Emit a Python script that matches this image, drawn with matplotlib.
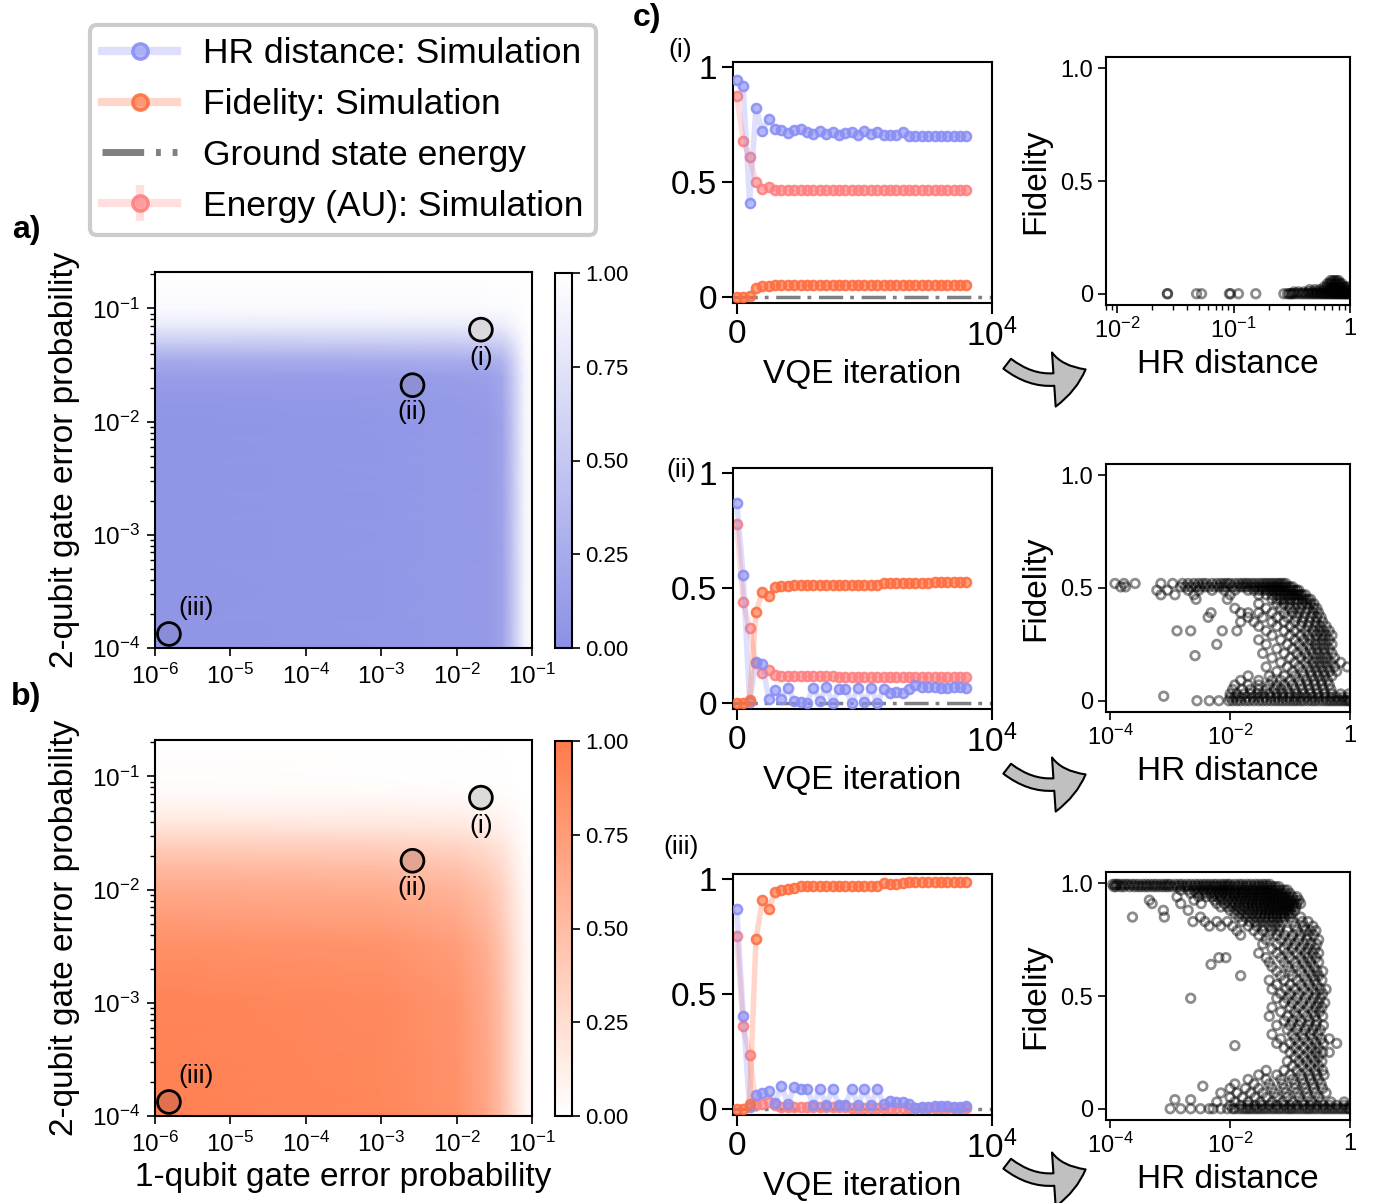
import matplotlib
matplotlib.use("Agg")
import matplotlib.pyplot as plt
from matplotlib.colors import LinearSegmentedColormap, to_rgba
from matplotlib.lines import Line2D
from matplotlib.patches import FancyArrowPatch
from matplotlib.ticker import NullLocator

plt.rcParams['font.family'] = ['Liberation Sans', 'DejaVu Sans']
plt.rcParams['mathtext.fontset'] = 'custom'
plt.rcParams['mathtext.rm'] = 'Liberation Sans'
plt.rcParams['mathtext.it'] = 'Liberation Sans:italic'
plt.rcParams['mathtext.bf'] = 'Liberation Sans:bold'
plt.rcParams['axes.linewidth'] = 1.5

#========================
#       DATA
#=========================
# heatmap grid nodes (1-qubit error along x, 2-qubit error along y)
p1_nodes = [1e-6, 1e-3, 1e-2, 0.025, 0.04, 0.056, 0.079, 0.1]
p2_nodes = [1e-4, 1e-3, 3.2e-3, 1e-2, 0.016, 0.025, 0.035, 0.05, 0.071, 0.1, 0.21]

# HR distance over the grid (rows follow p2_nodes)
hr_map = [
    [.05, .06, .08, .09, .16, .48, .89, .98],
    [.05, .06, .08, .09, .16, .48, .89, .98],
    [.05, .06, .08, .09, .16, .48, .89, .98],
    [.05, .06, .08, .09, .16, .48, .89, .98],
    [.07, .08, .10, .11, .18, .49, .89, .98],
    [.11, .12, .13, .14, .21, .51, .89, .98],
    [.24, .25, .26, .27, .33, .58, .91, .98],
    [.53, .53, .54, .54, .58, .74, .94, .99],
    [.81, .81, .82, .82, .83, .90, .98, 1.0],
    [.95, .95, .95, .95, .96, .97, .99, 1.0],
    [1.0, 1.0, 1.0, 1.0, 1.0, 1.0, 1.0, 1.0],
]

# fidelity over the grid
fid_map = [
    [.95, .91, .83, .67, .49, .29, .10, .03],
    [.93, .89, .81, .65, .48, .28, .09, .03],
    [.85, .82, .74, .60, .44, .26, .09, .03],
    [.65, .62, .57, .46, .34, .20, .07, .02],
    [.52, .50, .45, .36, .27, .16, .05, .02],
    [.36, .35, .31, .25, .19, .11, .04, .01],
    [.22, .21, .19, .15, .11, .07, .02, .01],
    [.11, .11, .10, .08, .06, .03, .01, .00],
    [.04, .04, .03, .03, .02, .01, .00, .00],
    [.02, .01, .01, .01, .01, .00, .00, .00],
    [.01, .00, .00, .00, .00, .00, .00, .00],
]

# the three selected noise settings
case_tags = ['(i)', '(ii)', '(iii)']
case_p1 = [0.021, 2.6e-3, 1.53e-6]
case_p2_a = [0.065, 0.021, 1.33e-4]
case_p2_b = [0.065, 0.018, 1.33e-4]

# VQE traces
vqe_iter = [0, 250, 500, 750, 1000, 1250, 1500, 1750, 2000, 2250, 2500, 2750, 3000,
            3250, 3500, 3750, 4000, 4250, 4500, 4750, 5000, 5250, 5500, 5750, 6000,
            6250, 6500, 6750, 7000, 7250, 7500, 7750, 8000, 8250, 8500, 8750, 9000]

hr_i = [0.94, 0.914, 0.41, 0.82, 0.72, 0.775, 0.73, 0.725, 0.71, 0.726, 0.728, 0.718,
        0.706, 0.72, 0.706, 0.716, 0.703, 0.713, 0.716, 0.703, 0.72, 0.708, 0.718,
        0.703, 0.703, 0.702, 0.716, 0.70, 0.70, 0.70, 0.70, 0.70, 0.698, 0.70, 0.70,
        0.70, 0.70]
fid_i = [0.0, 0.0, 0.004, 0.04, 0.047, 0.047, 0.052, 0.052, 0.052, 0.052, 0.053,
         0.053, 0.053, 0.053, 0.053, 0.053, 0.053, 0.053, 0.053, 0.053, 0.053, 0.053,
         0.053, 0.053, 0.054, 0.054, 0.054, 0.054, 0.054, 0.054, 0.054, 0.054, 0.054,
         0.054, 0.054, 0.054, 0.054]
en_i = [0.871, 0.678, 0.606, 0.5, 0.47, 0.477, 0.466, 0.466, 0.465, 0.465, 0.465,
        0.465, 0.465, 0.464, 0.464, 0.464, 0.464, 0.464, 0.464, 0.464, 0.464, 0.464,
        0.464, 0.463, 0.463, 0.463, 0.463, 0.463, 0.463, 0.463, 0.463, 0.463, 0.463,
        0.463, 0.463, 0.463, 0.463]

hr_ii = [0.867, 0.555, 0.005, 0.18, 0.169, 0.02, 0.058, 0.02, 0.068, 0.01, 0.007,
         0.003, 0.066, 0.01, 0.07, 0.003, 0.06, 0.063, 0.003, 0.066, 0.006, 0.066,
         0.003, 0.06, 0.046, 0.05, 0.046, 0.06, 0.078, 0.072, 0.072, 0.072, 0.068,
         0.066, 0.072, 0.072, 0.065]
fid_ii = [0.0, 0.0, 0.014, 0.395, 0.483, 0.464, 0.503, 0.507, 0.51, 0.514, 0.514,
          0.514, 0.514, 0.514, 0.514, 0.514, 0.514, 0.514, 0.514, 0.514, 0.514, 0.514,
          0.514, 0.52, 0.52, 0.52, 0.52, 0.521, 0.522, 0.523, 0.523, 0.524, 0.524,
          0.524, 0.525, 0.525, 0.525]
en_ii = [0.778, 0.44, 0.326, 0.176, 0.133, 0.143, 0.122, 0.118, 0.118, 0.117, 0.117,
         0.117, 0.116, 0.116, 0.116, 0.116, 0.115, 0.115, 0.115, 0.115, 0.115, 0.114,
         0.114, 0.114, 0.114, 0.114, 0.113, 0.113, 0.113, 0.113, 0.113, 0.112, 0.112,
         0.112, 0.112, 0.112, 0.112]

hr_iii = [0.867, 0.403, 0.01, 0.063, 0.07, 0.078, 0.027, 0.1, 0.023, 0.095, 0.089,
          0.089, 0.017, 0.086, 0.017, 0.086, 0.02, 0.02, 0.086, 0.02, 0.086, 0.02,
          0.086, 0.022, 0.036, 0.032, 0.032, 0.022, 0.006, 0.008, 0.008, 0.012, 0.012,
          0.016, 0.008, 0.008, 0.014]
fid_iii = [0.0, 0.003, 0.024, 0.738, 0.906, 0.867, 0.944, 0.951, 0.957, 0.961, 0.967,
           0.967, 0.967, 0.967, 0.967, 0.967, 0.967, 0.967, 0.967, 0.967, 0.967, 0.967,
           0.967, 0.98, 0.978, 0.978, 0.983, 0.986, 0.986, 0.986, 0.986, 0.986, 0.986,
           0.986, 0.986, 0.986, 0.986]
en_iii = [0.752, 0.36, 0.236, 0.02, 0.022, 0.032, 0.017, 0.01, 0.01, 0.009, 0.009,
          0.009, 0.008, 0.008, 0.008, 0.008, 0.008, 0.008, 0.007, 0.007, 0.007, 0.007,
          0.007, 0.007, 0.007, 0.007, 0.006, 0.006, 0.006, 0.006, 0.006, 0.006, 0.006,
          0.006, 0.006, 0.006, 0.006]

# fidelity vs HR distance: (fidelity level, HR distances at that level)
scatter_i = [
    (0.0, [0.027, 0.027, 0.048, 0.053, 0.092, 0.094, 0.11, 0.155, 0.27, 0.29, 0.30,
           0.31, 0.32, 0.33, 0.35, 0.37, 0.39, 0.41, 0.43, 0.45, 0.47, 0.49, 0.51, 0.53,
           0.55, 0.57, 0.59, 0.61, 0.63, 0.65, 0.67, 0.69, 0.71, 0.73, 0.75, 0.77, 0.79,
           0.81, 0.83, 0.85, 0.87, 0.89, 0.91, 0.93, 0.95, 0.97, 0.99]),
    (0.008, [0.33, 0.36, 0.40, 0.44, 0.48, 0.52, 0.56, 0.60, 0.64, 0.68, 0.72, 0.76,
             0.80, 0.84, 0.88, 0.92, 0.96, 1.0]),
    (0.018, [0.45, 0.5, 0.55, 0.6, 0.65, 0.7, 0.75, 0.8, 0.85, 0.9, 0.95, 1.0]),
    (0.03, [0.6, 0.64, 0.68, 0.72, 0.76, 0.8, 0.84, 0.88, 0.92, 0.96]),
    (0.045, [0.64, 0.67, 0.7, 0.73, 0.76, 0.79, 0.82, 0.85]),
    (0.058, [0.68, 0.71, 0.74, 0.77, 0.8]),
]

scatter_ii = [
    (0.52, [1.2e-4, 1.7e-4, 2.6e-4, 7e-4, 1.1e-3, 1.6e-3, 2e-3, 2.5e-3, 3e-3, 3.5e-3,
            4e-3, 5e-3, 6e-3, 7e-3, 8e-3, 9e-3, 0.01, 0.012, 0.014, 0.016, 0.018, 0.02,
            0.023, 0.026, 0.03, 0.034, 0.038, 0.042, 0.047, 0.052, 0.058, 0.064, 0.07,
            0.077, 0.085]),
    (0.505, [1.5e-4, 1.8e-4, 1.5e-3, 1.8e-3, 2.2e-3, 2.7e-3, 3.2e-3, 3.8e-3, 4.5e-3,
             5.5e-3, 6.5e-3, 7.5e-3, 8.5e-3, 0.011, 0.013, 0.015, 0.017, 0.019, 0.022,
             0.025, 0.028, 0.032, 0.036, 0.04, 0.045, 0.05, 0.055, 0.06, 0.067, 0.074,
             0.082, 0.09, 0.1, 0.11]),
    (0.49, [6e-4, 9e-4, 2e-3, 3e-3, 5e-3, 8e-3, 0.012, 0.02, 0.025, 0.03, 0.035, 0.04,
            0.045, 0.05, 0.055, 0.06, 0.065, 0.07, 0.08, 0.09, 0.1, 0.11, 0.12, 0.13,
            0.14]),
    (0.47, [7e-4, 1.2e-3, 2.5e-3, 0.01, 0.03, 0.04, 0.05, 0.06, 0.07, 0.08, 0.09, 0.1,
            0.11, 0.12, 0.13, 0.14, 0.15, 0.16, 0.18]),
    (0.45, [2.7e-3, 0.009, 0.05, 0.06, 0.07, 0.08, 0.09, 0.1, 0.12, 0.14, 0.16, 0.18,
            0.2, 0.22]),
    (0.43, [0.03, 0.06, 0.08, 0.1, 0.13, 0.16, 0.19, 0.22, 0.25]),
    (0.41, [0.012, 0.04, 0.07, 0.1, 0.12, 0.15, 0.2, 0.25, 0.28]),
    (0.39, [4.8e-3, 0.015, 0.02, 0.03, 0.05, 0.08, 0.11, 0.14, 0.18, 0.24, 0.3]),
    (0.37, [4.3e-3, 0.02, 0.035, 0.06, 0.09, 0.13, 0.17, 0.22, 0.28, 0.33]),
    (0.35, [0.015, 0.025, 0.05, 0.08, 0.12, 0.16, 0.21, 0.27, 0.35]),
    (0.33, [0.03, 0.06, 0.1, 0.15, 0.2, 0.26, 0.32, 0.4]),
    (0.31, [1.3e-3, 2.2e-3, 7.4e-3, 0.013, 0.04, 0.08, 0.12, 0.18, 0.24, 0.3, 0.36,
            0.45]),
    (0.29, [0.05, 0.1, 0.15, 0.2, 0.27, 0.33, 0.4, 0.5]),
    (0.27, [0.03, 0.07, 0.12, 0.17, 0.22, 0.28, 0.35, 0.45]),
    (0.25, [6e-3, 0.04, 0.09, 0.14, 0.2, 0.26, 0.32, 0.4, 0.5]),
    (0.23, [0.06, 0.11, 0.16, 0.22, 0.28, 0.36, 0.45]),
    (0.21, [0.035, 0.08, 0.13, 0.18, 0.24, 0.3, 0.38, 0.5]),
    (0.2, [2.6e-3]),
    (0.19, [0.05, 0.1, 0.15, 0.2, 0.27, 0.34, 0.42, 0.55]),
    (0.17, [0.07, 0.12, 0.18, 0.24, 0.3, 0.38, 0.48, 0.7]),
    (0.15, [0.04, 0.09, 0.14, 0.2, 0.26, 0.33, 0.42, 0.55, 0.9]),
    (0.13, [0.06, 0.11, 0.16, 0.22, 0.28, 0.36, 0.46, 0.6]),
    (0.11, [0.02, 0.045, 0.08, 0.12, 0.17, 0.23, 0.3, 0.38, 0.5]),
    (0.09, [0.015, 0.03, 0.05, 0.07, 0.1, 0.14, 0.19, 0.25, 0.33, 0.42]),
    (0.07, [0.012, 0.02, 0.03, 0.045, 0.06, 0.08, 0.11, 0.15, 0.2, 0.26, 0.34, 0.45]),
    (0.05, [0.011, 0.016, 0.022, 0.03, 0.04, 0.055, 0.07, 0.09, 0.12, 0.16, 0.21, 0.28,
            0.36, 0.48]),
    (0.03, [0.01, 0.013, 0.017, 0.022, 0.028, 0.035, 0.045, 0.06, 0.075, 0.1, 0.13,
            0.17, 0.22, 0.29, 0.38, 0.5, 0.7, 0.95]),
    (0.02, [7.8e-4]),
    (0.015, [0.01, 0.012, 0.015, 0.019, 0.024, 0.03, 0.038, 0.048, 0.06, 0.075, 0.095,
             0.12, 0.15, 0.19, 0.24, 0.3, 0.38, 0.48, 0.6, 0.75, 0.9]),
    (0.0, [2.8e-3, 4.5e-3, 6.5e-3, 9.5e-3, 0.011, 0.013, 0.015, 0.018, 0.021, 0.025,
           0.03, 0.035, 0.041, 0.048, 0.056, 0.065, 0.075, 0.087, 0.1, 0.115, 0.13, 0.15,
           0.17, 0.2, 0.23, 0.26, 0.3, 0.35, 0.4, 0.45, 0.5, 0.56, 0.63, 0.7, 0.78, 0.86,
           0.94, 1.0]),
]

scatter_iii = [
    (0.995, [1.1e-4, 1.2e-4, 1.3e-4, 1.4e-4, 1.6e-4, 1.8e-4, 2e-4, 2.3e-4, 2.6e-4, 3e-4,
             3.5e-4, 4e-4, 4.6e-4, 5.3e-4, 6e-4, 7e-4, 8e-4, 9e-4, 1e-3, 1.2e-3, 1.4e-3,
             1.6e-3, 1.9e-3, 2.2e-3, 2.6e-3, 3e-3, 3.5e-3, 4e-3, 4.6e-3, 5.3e-3, 6e-3,
             7e-3, 8e-3, 9e-3, 0.01, 0.012, 0.014, 0.016, 0.019, 0.022, 0.026, 0.03,
             0.035, 0.04, 0.046]),
    (0.985, [1.15e-4, 1.25e-4, 1.5e-4, 1.7e-4, 2.1e-4, 2.5e-4, 2.9e-4, 3.3e-4, 3.8e-4,
             4.3e-4, 5e-4, 5.7e-4, 6.5e-4, 7.5e-4, 8.5e-4, 9.5e-4, 1.1e-3, 1.3e-3, 1.5e-3,
             1.75e-3, 2e-3, 2.4e-3, 2.8e-3, 3.2e-3, 3.7e-3, 4.3e-3, 5e-3, 5.7e-3, 6.5e-3,
             7.5e-3, 8.5e-3, 9.5e-3, 0.011, 0.013, 0.015, 0.0175, 0.02, 0.024, 0.028,
             0.032, 0.037, 0.043, 0.05, 0.057, 0.065]),
    (0.97, [1.5e-3, 2e-3, 2.5e-3, 3e-3, 3.6e-3, 4.3e-3, 5e-3, 6e-3, 7e-3, 8e-3, 9e-3,
            0.01, 0.012, 0.014, 0.016, 0.018, 0.021, 0.024, 0.027, 0.031, 0.035, 0.04,
            0.045, 0.05, 0.056, 0.063, 0.07, 0.08, 0.09]),
    (0.955, [2.2e-3, 2.8e-3, 3.4e-3, 4e-3, 4.8e-3, 5.6e-3, 6.5e-3, 7.5e-3, 8.7e-3, 0.01,
             0.0115, 0.013, 0.015, 0.017, 0.02, 0.023, 0.026, 0.03, 0.034, 0.039, 0.044,
             0.05, 0.057, 0.065, 0.074, 0.085, 0.1]),
    (0.94, [1.3e-3, 3e-3, 4e-3, 5e-3, 6e-3, 7e-3, 8.5e-3, 0.01, 0.012, 0.014, 0.016,
            0.019, 0.022, 0.025, 0.029, 0.033, 0.038, 0.043, 0.049, 0.056, 0.064, 0.073,
            0.083, 0.095, 0.11, 0.13]),
    (0.925, [4.5e-4, 2.5e-3, 5.5e-3, 7e-3, 9e-3, 0.011, 0.013, 0.015, 0.018, 0.021,
             0.024, 0.028, 0.032, 0.037, 0.042, 0.048, 0.055, 0.063, 0.072, 0.082, 0.093,
             0.105, 0.12, 0.14]),
    (0.91, [5e-4, 1.5e-3, 3.3e-3, 6e-3, 8e-3, 0.01, 0.012, 0.014, 0.017, 0.02, 0.023,
            0.027, 0.031, 0.036, 0.041, 0.047, 0.054, 0.062, 0.071, 0.08, 0.09, 0.1,
            0.115, 0.13, 0.15]),
    (0.895, [7e-3, 9e-3, 0.011, 0.014, 0.017, 0.02, 0.024, 0.028, 0.033, 0.038, 0.044,
             0.05, 0.057, 0.065, 0.075, 0.085, 0.097, 0.11, 0.125]),
    (0.88, [7.7e-4, 2e-3, 0.01, 0.013, 0.016, 0.02, 0.024, 0.029, 0.034, 0.04, 0.046,
            0.053, 0.06, 0.07, 0.08, 0.09, 0.1, 0.12]),
    (0.865, [0.012, 0.015, 0.019, 0.023, 0.028, 0.033, 0.039, 0.045, 0.052, 0.06, 0.07,
             0.08, 0.092, 0.105]),
    (0.85, [2.35e-4, 8e-4, 3.2e-3, 0.014, 0.018, 0.022, 0.027, 0.032, 0.038, 0.045,
            0.052, 0.06, 0.07, 0.08, 0.1, 0.15]),
    (0.83, [2.4e-3, 3.8e-3, 6e-3, 0.009, 0.016, 0.021, 0.026, 0.032, 0.04, 0.05, 0.062,
            0.075, 0.11, 0.16, 0.2]),
    (0.81, [4.5e-3, 7e-3, 0.011, 0.02, 0.028, 0.036, 0.045, 0.056, 0.068, 0.12, 0.17,
            0.24]),
    (0.79, [0.013, 0.025, 0.035, 0.05, 0.065, 0.09, 0.13, 0.18, 0.22, 0.27]),
    (0.77, [0.015, 0.03, 0.045, 0.06, 0.08, 0.11, 0.15, 0.2, 0.25]),
    (0.75, [0.04, 0.07, 0.1, 0.14, 0.19, 0.3]),
    (0.73, [0.035, 0.06, 0.09, 0.12, 0.17, 0.22, 0.28]),
    (0.71, [0.05, 0.08, 0.11, 0.15, 0.2, 0.26]),
    (0.69, [0.03, 0.06, 0.09, 0.13, 0.18, 0.24, 0.3]),
    (0.67, [6.5e-3, 8.5e-3, 0.04, 0.07, 0.1, 0.15, 0.2, 0.27]),
    (0.65, [0.045, 0.08, 0.12, 0.17, 0.22, 0.3]),
    (0.64, [4.8e-3]),
    (0.63, [0.05, 0.09, 0.13, 0.19, 0.25]),
    (0.61, [0.06, 0.1, 0.15, 0.21, 0.28, 0.35]),
    (0.59, [0.015, 0.07, 0.11, 0.17, 0.24, 0.3]),
    (0.57, [0.045, 0.08, 0.13, 0.19, 0.26, 0.34]),
    (0.55, [0.06, 0.1, 0.15, 0.21, 0.28]),
    (0.53, [0.05, 0.085, 0.12, 0.17, 0.24, 0.32, 0.4]),
    (0.51, [0.07, 0.1, 0.14, 0.2, 0.27, 0.35]),
    (0.49, [2.2e-3, 0.06, 0.09, 0.13, 0.18, 0.25, 0.32]),
    (0.47, [0.08, 0.11, 0.16, 0.22, 0.3, 0.38]),
    (0.45, [0.05, 0.1, 0.14, 0.2, 0.27, 0.34]),
    (0.43, [0.07, 0.12, 0.17, 0.24, 0.31]),
    (0.41, [0.045, 0.09, 0.13, 0.19, 0.26, 0.35]),
    (0.39, [0.08, 0.11, 0.15, 0.21, 0.28]),
    (0.37, [0.06, 0.1, 0.14, 0.2, 0.27, 0.36]),
    (0.35, [0.09, 0.13, 0.18, 0.24, 0.32]),
    (0.33, [0.05, 0.11, 0.16, 0.22, 0.29]),
    (0.31, [0.07, 0.12, 0.17, 0.24, 0.33, 0.45]),
    (0.29, [0.06, 0.1, 0.14, 0.2, 0.27, 0.36, 0.6]),
    (0.28, [0.012]),
    (0.27, [0.08, 0.12, 0.17, 0.23, 0.3]),
    (0.25, [0.1, 0.14, 0.2, 0.27, 0.35, 0.45]),
    (0.23, [0.12, 0.17, 0.23, 0.3]),
    (0.21, [0.09, 0.14, 0.19, 0.26, 0.34]),
    (0.19, [0.11, 0.16, 0.22, 0.3]),
    (0.17, [0.04, 0.08, 0.13, 0.19, 0.26, 0.35]),
    (0.15, [0.03, 0.06, 0.1, 0.15, 0.21, 0.28, 0.37]),
    (0.13, [0.02, 0.04, 0.07, 0.11, 0.16, 0.22, 0.3]),
    (0.11, [0.012, 0.025, 0.045, 0.075, 0.12, 0.17, 0.24, 0.33]),
    (0.1, [3.5e-3]),
    (0.09, [0.01, 0.018, 0.03, 0.05, 0.08, 0.12, 0.18, 0.25, 0.35]),
    (0.07, [7e-3, 0.013, 0.022, 0.035, 0.055, 0.085, 0.13, 0.19, 0.27, 0.4]),
    (0.05, [0.01, 0.016, 0.026, 0.04, 0.06, 0.09, 0.14, 0.2, 0.3]),
    (0.04, [1.2e-3, 2.2e-3]),
    (0.03, [6e-3, 0.012, 0.02, 0.032, 0.05, 0.075, 0.11, 0.16, 0.23, 0.33, 0.48, 0.8]),
    (0.015, [0.01, 0.015, 0.02, 0.026, 0.034, 0.045, 0.06, 0.08, 0.1, 0.13, 0.17, 0.22,
             0.28, 0.36, 0.46, 0.6, 0.8, 1.0]),
    (0.0, [1e-3, 1.5e-3, 2.2e-3, 3.2e-3, 4.5e-3, 5.2e-3, 7e-3, 9e-3, 0.011, 0.012,
           0.014, 0.016, 0.018, 0.02, 0.022, 0.025, 0.028, 0.031, 0.035, 0.039, 0.044,
           0.05, 0.056, 0.063, 0.07, 0.08, 0.09, 0.1, 0.11, 0.125, 0.14, 0.16, 0.18, 0.2,
           0.22, 0.25, 0.28, 0.32, 0.36, 0.4, 0.45, 0.5, 0.56, 0.63, 0.7, 0.78, 0.87,
           0.95, 1.0]),
]

#========================
#       STYLE
#=========================
W, H = 1377, 1203
HR_COL = '#8a8ff5'
FID_COL = '#ff6e40'
EN_COL = '#ff8080'
GS_COL = '#808080'
GS_DASH = (7, 2, 1.1, 2.2)

blue_cmap = LinearSegmentedColormap.from_list('hr', ['#8b90e5', '#ffffff'])
orange_cmap = LinearSegmentedColormap.from_list('fid', ['#ffffff', '#ff7b4b'])


def box(l, t, r, b):
    # pixel box of the reference -> figure fraction rect
    return [l / W, 1 - b / H, (r - l) / W, (b - t) / H]


def trace_style(col):
    return dict(color=to_rgba(col, 0.28), lw=4, marker='o', ms=6.5, mew=1.9,
                mec=to_rgba(col, 0.9), mfc=to_rgba(col, 0.5))


fig = plt.figure(figsize=(W / 100, H / 100), dpi=100)


#========================
#       HEATMAPS
#=========================
def heatmap(top, table, cmap, p2_vals, faces, show_xlabel):
    ax = fig.add_axes(box(155, top, 532, top + 376))
    ax.set_xscale('log')
    ax.set_yscale('log')
    mesh = ax.pcolormesh(p1_nodes, p2_nodes, table, shading='gouraud', cmap=cmap,
                         vmin=0, vmax=1, rasterized=True)
    ax.set_xlim(1e-6, 1e-1)
    ax.set_ylim(1e-4, 0.21)
    ax.set_xticks([1e-6, 1e-5, 1e-4, 1e-3, 1e-2, 1e-1])
    ax.xaxis.set_minor_locator(NullLocator())
    ax.set_yticks([1e-4, 1e-3, 1e-2, 1e-1])
    ax.tick_params(labelsize=17.5, width=1.2, length=6, pad=5)
    ax.tick_params(which='minor', width=1.0, length=3.5)
    ax.set_ylabel('2-qubit gate error probability', fontsize=24, labelpad=8)
    if show_xlabel:
        ax.set_xlabel('1-qubit gate error probability', fontsize=24, labelpad=4)

    ax.scatter(case_p1, p2_vals, s=270, facecolors=faces, edgecolors='k',
               linewidths=2, zorder=3, clip_on=False)
    offs = [(0, -28), (0, -27), (27, 26)]
    for tag, x, y, o in zip(case_tags, case_p1, p2_vals, offs):
        ax.annotate(tag, (x, y), xytext=o, textcoords='offset pixels',
                    ha='center', va='center', fontsize=19)

    cax = fig.add_axes(box(555, top + 1, 572, top + 376))
    cb = fig.colorbar(mesh, cax=cax, ticks=[0, 0.25, 0.5, 0.75, 1.0])
    cb.ax.set_yticklabels(['0.00', '0.25', '0.50', '0.75', '1.00'])
    cb.ax.tick_params(labelsize=16, width=1.2, length=6)
    cb.outline.set_linewidth(1.5)
    return ax


heatmap(272, hr_map, blue_cmap, case_p2_a, ['#d9d9de', '#8f90d4', '#8b8cd8'], False)
heatmap(740, fid_map, orange_cmap, case_p2_b, ['#dedad8', '#e3a391', '#e0714f'], True)


#========================
#       VQE TRACES
#=========================
def vqe_panel(top, hr, fid, en):
    ax = fig.add_axes(box(733, top, 992, top + 241))
    ax.axhline(0, color=GS_COL, lw=2.5, dashes=GS_DASH, zorder=1)
    ax.plot(vqe_iter, en, **trace_style(EN_COL), zorder=2)
    ax.plot(vqe_iter, hr, **trace_style(HR_COL), zorder=3)
    ax.plot(vqe_iter, fid, **trace_style(FID_COL), zorder=4)
    ax.set_xlim(-150, 1e4)
    ax.set_ylim(-0.025, 1.02)
    ax.set_xticks([0, 1e4])
    ax.set_xticklabels(['0', '$10^4$'])
    ax.set_yticks([0, 0.5, 1])
    ax.set_yticklabels(['0', '0.5', '1'])
    ax.tick_params(labelsize=24, width=1.5, length=8)
    ax.set_xlabel('VQE iteration', fontsize=24, labelpad=4)
    return ax


vqe_panel(62, hr_i, fid_i, en_i)
vqe_panel(468, hr_ii, fid_ii, en_ii)
vqe_panel(874, hr_iii, fid_iii, en_iii)


#========================
#       SCATTERS
#=========================
def scatter_panel(top, rows, xlim, xticks, xlabels, minor):
    ax = fig.add_axes(box(1106, top, 1350, top + 248))
    hr = [x for f, xs in rows for x in xs]
    fid = [f for f, xs in rows for x in xs]
    ax.scatter(hr, fid, s=38, facecolors='none', edgecolors='k', linewidths=2.0,
               alpha=0.45)
    ax.set_xscale('log')
    ax.set_xlim(*xlim)
    ax.set_ylim(-0.05, 1.05)
    ax.set_xticks(xticks)
    ax.set_xticklabels(xlabels)
    if not minor:
        ax.xaxis.set_minor_locator(NullLocator())
    ax.set_yticks([0, 0.5, 1.0])
    ax.set_yticklabels(['0', '0.5', '1.0'])
    ax.tick_params(labelsize=17, width=1.2, length=6)
    ax.tick_params(which='minor', width=1.0, length=3.5)
    ax.set_xlabel('HR distance', fontsize=24, labelpad=4)
    ax.set_ylabel('Fidelity', fontsize=24, labelpad=6)
    return ax


scatter_panel(57, scatter_i, (0.008, 1), [1e-2, 1e-1, 1],
              ['$10^{-2}$', '$10^{-1}$', '1'], True)
scatter_panel(464, scatter_ii, (8.5e-5, 1), [1e-4, 1e-2, 1],
              ['$10^{-4}$', '$10^{-2}$', '1'], False)
scatter_panel(872, scatter_iii, (8.5e-5, 1), [1e-4, 1e-2, 1],
              ['$10^{-4}$', '$10^{-2}$', '1'], False)

# curved arrows between the columns
for y0 in [362, 767, 1162]:
    arr = FancyArrowPatch((1005 / W, 1 - y0 / H), (1088 / W, 1 - (y0 + 6) / H),
                          transform=fig.transFigure, connectionstyle='arc3,rad=0.35',
                          arrowstyle='simple,head_width=1.3,head_length=0.8,tail_width=0.3',
                          mutation_scale=30, facecolor='#c0c0c0', edgecolor='k', lw=1.5)
    fig.patches.append(arr)

#========================
#       LABELS / LEGEND
#=========================
fig.text(26 / W, 1 - 230 / H, 'a)', fontsize=23, fontweight='bold', ha='center', va='center')
fig.text(26 / W, 1 - 697 / H, 'b)', fontsize=23, fontweight='bold', ha='center', va='center')
fig.text(647 / W, 1 - 18 / H, 'c)', fontsize=23, fontweight='bold', ha='center', va='center')
fig.text(680 / W, 1 - 50 / H, '(i)', fontsize=19, ha='center', va='center')
fig.text(681 / W, 1 - 470 / H, '(ii)', fontsize=19, ha='center', va='center')
fig.text(681 / W, 1 - 847 / H, '(iii)', fontsize=19, ha='center', va='center')

hidden = fig.add_axes([0, 0, 0.001, 0.001])
en_handle = hidden.errorbar([0], [0], yerr=[1], color=to_rgba(EN_COL, 0.25), lw=6,
                            marker='o', ms=11, mew=2.5, mec=to_rgba(EN_COL, 0.9),
                            mfc=to_rgba(EN_COL, 0.6), ecolor=to_rgba(EN_COL, 0.25),
                            elinewidth=6)
hidden.set_visible(False)

handles = [
    Line2D([], [], color=to_rgba(HR_COL, 0.28), lw=6, marker='o', ms=11, mew=2.5,
           mec=to_rgba(HR_COL, 0.9), mfc=to_rgba(HR_COL, 0.6)),
    Line2D([], [], color=to_rgba(FID_COL, 0.28), lw=6, marker='o', ms=11, mew=2.5,
           mec=to_rgba(FID_COL, 0.9), mfc=to_rgba(FID_COL, 0.6)),
    Line2D([], [], color=GS_COL, lw=5, dashes=(6, 1.7, 0.7, 1.7)),
    en_handle,
]
labels = ['HR distance: Simulation', 'Fidelity: Simulation', 'Ground state energy',
          'Energy (AU): Simulation']
leg = fig.legend(handles, labels, loc='upper left', bbox_to_anchor=(90 / W, 1 - 25 / H),
                 bbox_transform=fig.transFigure, borderaxespad=0, fontsize=25.5,
                 handlelength=2.1, handletextpad=0.75, labelspacing=0.5, borderpad=0.35,
                 frameon=True, fancybox=True, edgecolor='#cccccc', framealpha=1)
leg.get_frame().set_linewidth(3)

fig.savefig('out.png', dpi=100)
